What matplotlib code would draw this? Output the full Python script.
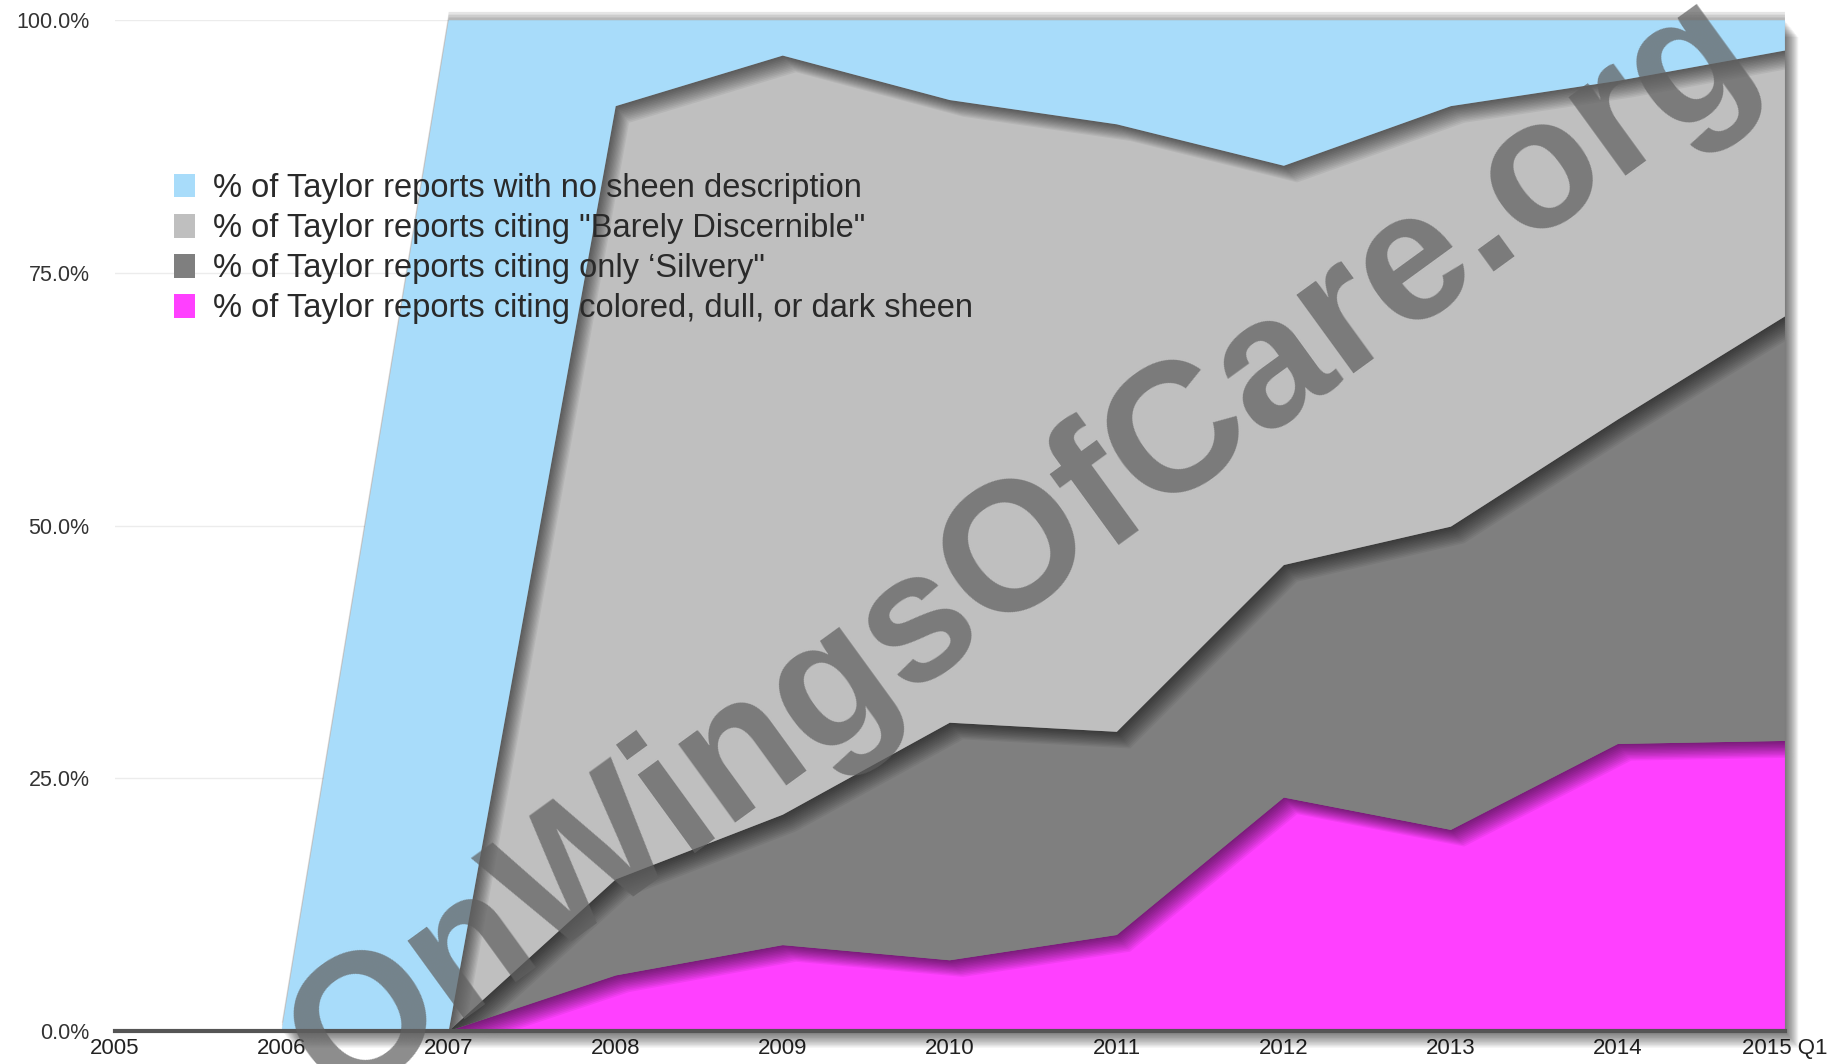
import matplotlib.pyplot as plt
import matplotlib.patheffects as pe

years = ['2005', '2006', '2007', '2008', '2009', '2010', '2011', '2012', '2013', '2014', '2015 Q1']
colored_dull_dark = [0, 0, 0, 5.5, 8.5, 7.0, 9.5, 23.1, 19.9, 28.4, 28.7]
only_silvery = [0, 0, 0, 9.5, 12.9, 23.5, 20.1, 23.0, 30.0, 32.1, 42.0]
barely_discernible = [0, 0, 0, 76.5, 75.1, 61.6, 60.1, 39.5, 41.6, 33.5, 26.3]
no_description = [0, 0, 100, 8.5, 3.5, 7.9, 10.3, 14.4, 8.5, 6.0, 3.0]

labels = ['% of Taylor reports citing colored, dull, or dark sheen',
          '% of Taylor reports citing only \u2018Silvery"',
          '% of Taylor reports citing "Barely Discernible"',
          '% of Taylor reports with no sheen description']
colors = ['#FF40FF', '#7F7F7F', '#BFBFBF', '#A8DCFA']

plt.rcParams['font.family'] = ['Liberation Sans', 'DejaVu Sans']

fig = plt.figure(figsize=(18.43, 10.64), dpi=100)
ax = fig.add_axes([0.0622, 0.031, 0.9063, 0.950])

x = list(range(len(years)))
polys = ax.stackplot(x, colored_dull_dark, only_silvery, barely_discernible, no_description,
                     colors=colors, labels=labels, linewidth=0)

# soft drop shadow, faked with stacked offsets
soft = [pe.SimplePatchShadow(offset=(0.8 * k, -k), shadow_rgbFace='black', alpha=0.055)
        for k in range(1, 13)]
for p in polys:
    p.set_path_effects(soft + [pe.Normal()])
    p.set_clip_on(False)
polys[-1].set_path_effects([pe.SimplePatchShadow(offset=(0, k), shadow_rgbFace='black', alpha=0.1)
                            for k in (2, 4, 6)] + soft + [pe.Normal()])

ax.set_xlim(0, len(years) - 1)
ax.set_ylim(0, 100)
ax.set_yticks([0, 25, 50, 75, 100])
ax.set_yticklabels(['0.0%', '25.0%', '50.0%', '75.0%', '100.0%'], fontsize=15.5, color='#333333')
ax.set_xticks(x)
ax.set_xticklabels(years, fontsize=16, color='#222222')
ax.tick_params(length=0)
ax.tick_params(axis='y', pad=18)
ax.tick_params(axis='x', pad=5)
ax.grid(axis='y', color='#ececec', linewidth=1)
ax.set_axisbelow(True)
for s in ['top', 'right', 'left']:
    ax.spines[s].set_visible(False)
ax.spines['bottom'].set_color('#555555')
ax.spines['bottom'].set_linewidth(3)
ax.spines['bottom'].set_zorder(5)

h, l = ax.get_legend_handles_labels()
leg = ax.legend(h[::-1], l[::-1], loc='upper left', bbox_to_anchor=(0.0356, 0.849), frameon=False,
                fontsize=23.5, handlelength=0.65, handleheight=0.75, handletextpad=0.55,
                labelspacing=0.28, borderpad=0, borderaxespad=0)
for t in leg.get_texts():
    t.set_color('#2a2a2a')

# watermark
fig.text(0.555, 0.483, 'OnWingsOfCare.org', fontsize=132, fontweight='bold', color='#606060',
         alpha=0.72, rotation=36, ha='center', va='center', zorder=10)

fig.savefig('out.png', dpi=100)
